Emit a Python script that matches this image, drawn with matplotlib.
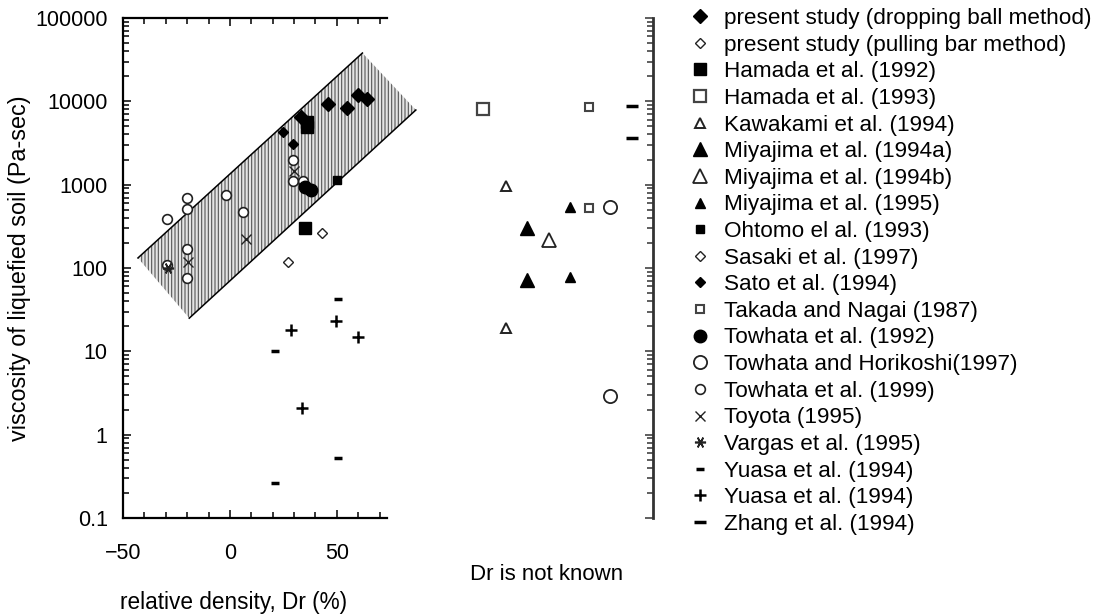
import matplotlib
matplotlib.use("Agg")
import matplotlib.pyplot as plt
from matplotlib.lines import Line2D
from matplotlib.patches import Polygon
from matplotlib.ticker import FixedLocator, FixedFormatter, LogLocator, NullFormatter, MultipleLocator

plt.rcParams['font.family'] = ['Liberation Sans', 'DejaVu Sans']
plt.rcParams['hatch.linewidth'] = 0.8

# ---------------- data ----------------
# left panel: x = relative density Dr (%), y = viscosity (Pa-sec)
dropping_x = [33.5, 46, 55, 60, 64]
dropping_y = [6500, 9200, 8400, 11800, 10800]
pulling_x = [43]
pulling_y = [262]
hamada92_x = [36, 36, 35]
hamada92_y = [5600, 4900, 300]
ohtomo_x = [50]
ohtomo_y = [1130]
sasaki_x = [27]
sasaki_y = [117]
sato_x = [25, 29.6]
sato_y = [4300, 3100]
towhata92_x = [35, 38]
towhata92_y = [950, 870]
towhata99_x = [-29.4, -20, -20, -2, 6, -20, -20, -29.4, 29.5, 29.5, 34]
towhata99_y = [390, 700, 510, 750, 470, 170, 76, 108, 2000, 1100, 1100]
toyota_x = [7.5, -19.6, 30]
toyota_y = [222, 118, 1450]
vargas_x = [-29]
vargas_y = [100]
yuasa_dash_x = [50.5, 21, 50.5, 21]
yuasa_dash_y = [42, 10, 0.52, 0.26]
yuasa_plus_x = [28.5, 49.5, 60, 33.6]
yuasa_plus_y = [18, 23, 15, 2.1]

# hatched band (parallelogram corners)
band_x = [-43, 62, 87, -19]
band_y = [132, 38000, 7870, 25]

# right panel: Dr unknown, x = column slot
hamada93_x = [20]
hamada93_y = [8100]
kawakami_x = [31, 31]
kawakami_y = [960, 19]
miya94a_x = [41, 41]
miya94a_y = [300, 72]
miya94b_x = [51]
miya94b_y = [216]
miya95_x = [61, 61]
miya95_y = [540, 78]
takada_x = [70, 70]
takada_y = [8500, 525]
horikoshi_x = [80, 80]
horikoshi_y = [540, 2.9]
zhang_x = [90, 90]
zhang_y = [8800, 3630]

ytick_vals = [0.1, 1, 10, 100, 1000, 10000, 100000]
ytick_labels = ["0.1", "1", "10", "100", "1000", "10000", "100000"]
xtick_vals = [-50, 0, 50]

# ---------------- styles ----------------
K = 'black'
E = '#222222'
styles = {
    'present study (dropping ball method)': dict(marker='D', ms=7.0, mfc=K, mec=K, mew=1),
    'present study (pulling bar method)': dict(marker='D', ms=4.6, mfc='white', mec=E, mew=1.0),
    'Hamada et al. (1992)': dict(marker='s', ms=8.5, mfc=K, mec=K, mew=1),
    'Hamada et al. (1993)': dict(marker='s', ms=8.5, mfc='white', mec='#444444', mew=1.6),
    'Kawakami et al. (1994)': dict(marker='^', ms=6.5, mfc='white', mec=E, mew=1.4),
    'Miyajima et al. (1994a)': dict(marker='^', ms=10, mfc=K, mec=K, mew=1),
    'Miyajima et al. (1994b)': dict(marker='^', ms=10, mfc='white', mec=E, mew=1.3),
    'Miyajima et al. (1995)': dict(marker='^', ms=7, mfc=K, mec=K, mew=1),
    'Ohtomo el al. (1993)': dict(marker='s', ms=5.5, mfc=K, mec=K, mew=1),
    'Sasaki et al. (1997)': dict(marker='D', ms=4.6, mfc='white', mec=E, mew=1.0),
    'Sato et al. (1994)': dict(marker='D', ms=5.0, mfc=K, mec=K, mew=1),
    'Takada and Nagai (1987)': dict(marker='s', ms=6, mfc='white', mec='#444444', mew=1.5),
    'Towhata et al. (1992)': dict(marker='o', ms=9, mfc=K, mec=K, mew=1),
    'Towhata and Horikoshi(1997)': dict(marker='o', ms=9.5, mfc='white', mec=E, mew=1.3),
    'Towhata et al. (1999)': dict(marker='o', ms=7, mfc='white', mec=E, mew=1.2),
    'Toyota (1995)': dict(marker='x', ms=7, mec=E, mew=1.0),
    'Vargas et al. (1995)': dict(marker=(6, 2, 90), ms=8, mec=E, mew=1.2),
    'Yuasa et al. (1994)': dict(marker='_', ms=5.5, mec=K, mew=2.5),
    'Yuasa et al. (1994) ': dict(marker='+', ms=8, mec=K, mew=1.8),
    'Zhang et al. (1994)': dict(marker='_', ms=9, mec=K, mew=2.5),
}

fig = plt.figure(figsize=(10.99, 6.15), dpi=100)

# ---------------- left panel ----------------
ax = fig.add_axes([123 / 1099, 1 - 518 / 615, 264 / 1099, 500 / 615])
ax.set_yscale('log')
ax.set_xlim(-50, 73.5)
ax.set_ylim(0.1, 100000)

verts = list(zip(band_x, band_y))
band = Polygon(verts, closed=True, facecolor='#e4e4e4', edgecolor='#555555',
               linewidth=0, hatch='|||||', clip_on=False, zorder=1)
ax.add_patch(band)
ax.plot([band_x[0], band_x[1]], [band_y[0], band_y[1]], color=K, lw=1.1, clip_on=False, zorder=2)
ax.plot([band_x[3], band_x[2]], [band_y[3], band_y[2]], color=K, lw=1.1, clip_on=False, zorder=2)

left_series = [
    ('Towhata et al. (1999)', towhata99_x, towhata99_y),
    ('Toyota (1995)', toyota_x, toyota_y),
    ('Vargas et al. (1995)', vargas_x, vargas_y),
    ('Sasaki et al. (1997)', sasaki_x, sasaki_y),
    ('present study (pulling bar method)', pulling_x, pulling_y),
    ('Sato et al. (1994)', sato_x, sato_y),
    ('Ohtomo el al. (1993)', ohtomo_x, ohtomo_y),
    ('Towhata et al. (1992)', towhata92_x, towhata92_y),
    ('Hamada et al. (1992)', hamada92_x, hamada92_y),
    ('present study (dropping ball method)', dropping_x, dropping_y),
    ('Yuasa et al. (1994)', yuasa_dash_x, yuasa_dash_y),
    ('Yuasa et al. (1994) ', yuasa_plus_x, yuasa_plus_y),
]
for name, xs, ys in left_series:
    ax.plot(xs, ys, linestyle='none', zorder=3, **styles[name])

ax.spines['right'].set_visible(False)
for s in ('left', 'bottom', 'top'):
    ax.spines[s].set_linewidth(1.6)
ax.xaxis.set_major_locator(FixedLocator(xtick_vals))
ax.xaxis.set_minor_locator(MultipleLocator(10))
ax.yaxis.set_major_locator(FixedLocator(ytick_vals))
ax.yaxis.set_major_formatter(FixedFormatter(ytick_labels))
ax.yaxis.set_minor_locator(LogLocator(base=10, subs=range(2, 10), numticks=20))
ax.yaxis.set_minor_formatter(NullFormatter())
ax.tick_params(axis='both', which='both', direction='in', top=True, right=False, width=1.1)
ax.tick_params(axis='both', which='major', length=6, labelsize=15.5)
ax.tick_params(axis='both', which='minor', length=4)
ax.tick_params(axis='y', which='major', pad=11)
ax.tick_params(axis='x', which='major', pad=18)
ax.tick_params(axis='x', which='both', labeltop=False)

ax.set_ylabel('viscosity of liquefied soil (Pa-sec)', fontsize=16.8, labelpad=3)
ax.set_xlabel('relative density, Dr (%)', fontsize=16.3)
ax.xaxis.label.set_va('center')
ax.xaxis.set_label_coords(0.417, -0.168)

# ---------------- right panel ----------------
ax2 = fig.add_axes([440 / 1099, 1 - 518 / 615, 213 / 1099, 500 / 615])
ax2.set_yscale('log')
ax2.set_xlim(0, 100)
ax2.set_ylim(0.1, 100000)
right_series = [
    ('Hamada et al. (1993)', hamada93_x, hamada93_y),
    ('Kawakami et al. (1994)', kawakami_x, kawakami_y),
    ('Miyajima et al. (1994a)', miya94a_x, miya94a_y),
    ('Miyajima et al. (1994b)', miya94b_x, miya94b_y),
    ('Miyajima et al. (1995)', miya95_x, miya95_y),
    ('Takada and Nagai (1987)', takada_x, takada_y),
    ('Towhata and Horikoshi(1997)', horikoshi_x, horikoshi_y),
    ('Zhang et al. (1994)', zhang_x, zhang_y),
]
for name, xs, ys in right_series:
    ax2.plot(xs, ys, linestyle='none', zorder=3, **styles[name])
for s in ('left', 'bottom', 'top'):
    ax2.spines[s].set_visible(False)
ax2.spines['right'].set_linewidth(2.0)
ax2.spines['right'].set_color('#333333')
ax2.set_xticks([])
ax2.yaxis.tick_right()
ax2.yaxis.set_major_locator(FixedLocator(ytick_vals))
ax2.yaxis.set_minor_locator(LogLocator(base=10, subs=range(2, 10), numticks=20))
ax2.yaxis.set_major_formatter(NullFormatter())
ax2.yaxis.set_minor_formatter(NullFormatter())
ax2.tick_params(axis='y', which='both', direction='in', labelright=False, width=1.1, color='#333333')
ax2.tick_params(axis='y', which='major', length=6)
ax2.tick_params(axis='y', which='minor', length=4)
ax2.set_xlabel('Dr is not known', fontsize=16)
ax2.xaxis.label.set_va('center')
ax2.xaxis.set_label_coords(0.5, -0.114)

# ---------------- legend ----------------
names = list(styles.keys())
handles = [Line2D([], [], linestyle='none', **styles[n]) for n in names]
labels = [n.strip() for n in names]
fig.legend(handles, labels, loc='upper left', bbox_to_anchor=(689 / 1099, 1 - 8 / 615),
           frameon=False, fontsize=16.2, handlelength=0.95, handletextpad=0.62,
           labelspacing=0.25, borderpad=0, borderaxespad=0)

fig.savefig('out.png', dpi=100)
